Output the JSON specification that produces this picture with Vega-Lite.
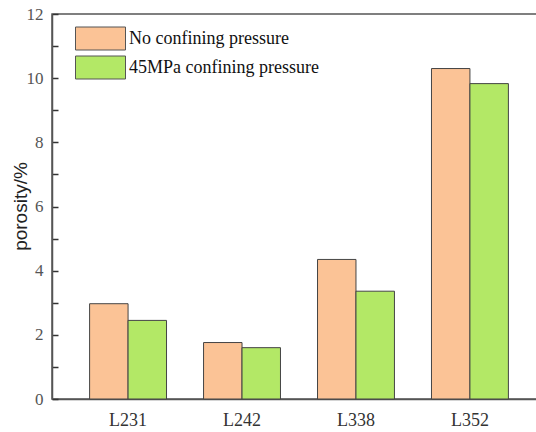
{
  "$schema": "https://vega.github.io/schema/vega-lite/v6.json",
  "autosize": "none",
  "padding": {"left": 52, "top": 14, "right": 0, "bottom": 33},
  "width": 494,
  "height": 385,
  "background": "white",
  "config": {
    "view": {"stroke": "#555555", "strokeWidth": 1.5},
    "font": "Liberation Serif"
  },
  "data": {
    "values": [
      {"sample": "L231", "condition": "No confining pressure", "porosity": 2.97},
      {"sample": "L231", "condition": "45MPa confining pressure", "porosity": 2.45},
      {"sample": "L242", "condition": "No confining pressure", "porosity": 1.76},
      {"sample": "L242", "condition": "45MPa confining pressure", "porosity": 1.6},
      {"sample": "L338", "condition": "No confining pressure", "porosity": 4.35},
      {"sample": "L338", "condition": "45MPa confining pressure", "porosity": 3.36},
      {"sample": "L352", "condition": "No confining pressure", "porosity": 10.3},
      {"sample": "L352", "condition": "45MPa confining pressure", "porosity": 9.83}
    ]
  },
  "mark": {"type": "bar", "stroke": "#444444", "strokeWidth": 1},
  "encoding": {
    "x": {
      "field": "sample",
      "type": "nominal",
      "scale": {"paddingInner": 0.325, "paddingOuter": 0.33},
      "axis": {
        "title": null,
        "labelAngle": 0,
        "labelFont": "Liberation Serif",
        "labelFontSize": 18,
        "labelColor": "#333333",
        "labelPadding": 12,
        "ticks": false,
        "domainColor": "#555555",
        "domainWidth": 1.5
      }
    },
    "xOffset": {
      "field": "condition",
      "type": "nominal",
      "sort": ["No confining pressure", "45MPa confining pressure"],
      "scale": {"paddingInner": 0, "paddingOuter": 0}
    },
    "y": {
      "field": "porosity",
      "type": "quantitative",
      "scale": {"domain": [0, 12], "nice": false},
      "axis": {
        "title": "porosity/%",
        "titleFont": "Liberation Sans",
        "titleFontSize": 19,
        "titleFontWeight": "normal",
        "titleColor": "#222222",
        "titleX": -32,
        "titleY": 192,
        "titleAlign": "center",
        "titleBaseline": "middle",
        "titleAngle": -90,
        "values": [0, 1, 2, 3, 4, 5, 6, 7, 8, 9, 10, 11, 12],
        "labelExpr": "datum.value % 2 === 0 ? datum.label : ''",
        "labelFont": "Liberation Serif",
        "labelFontSize": 17,
        "labelColor": "#555555",
        "ticks": true,
        "tickSize": -6,
        "labelPadding": 15,
        "tickColor": "#333333",
        "tickWidth": 1.5,
        "domainColor": "#555555",
        "domainWidth": 1.5,
        "grid": false
      }
    },
    "color": {
      "field": "condition",
      "type": "nominal",
      "sort": ["No confining pressure", "45MPa confining pressure"],
      "scale": {
        "domain": ["No confining pressure", "45MPa confining pressure"],
        "range": ["#FBC396", "#B3E866"]
      },
      "legend": {
        "title": null,
        "orient": "none",
        "legendX": 35.5,
        "legendY": 11.5,
        "padding": 0,
        "symbolType": "M-2,-0.92H2V0.92H-2Z",
        "symbolSize": 625,
        "symbolStrokeColor": "#555555",
        "symbolStrokeWidth": 1,
        "symbolOpacity": 1,
        "labelFont": "Liberation Serif",
        "labelFontSize": 18,
        "labelColor": "#111111",
        "labelOffset": 15.5,
        "labelLimit": 0,
        "rowPadding": 1
      }
    }
  }
}
